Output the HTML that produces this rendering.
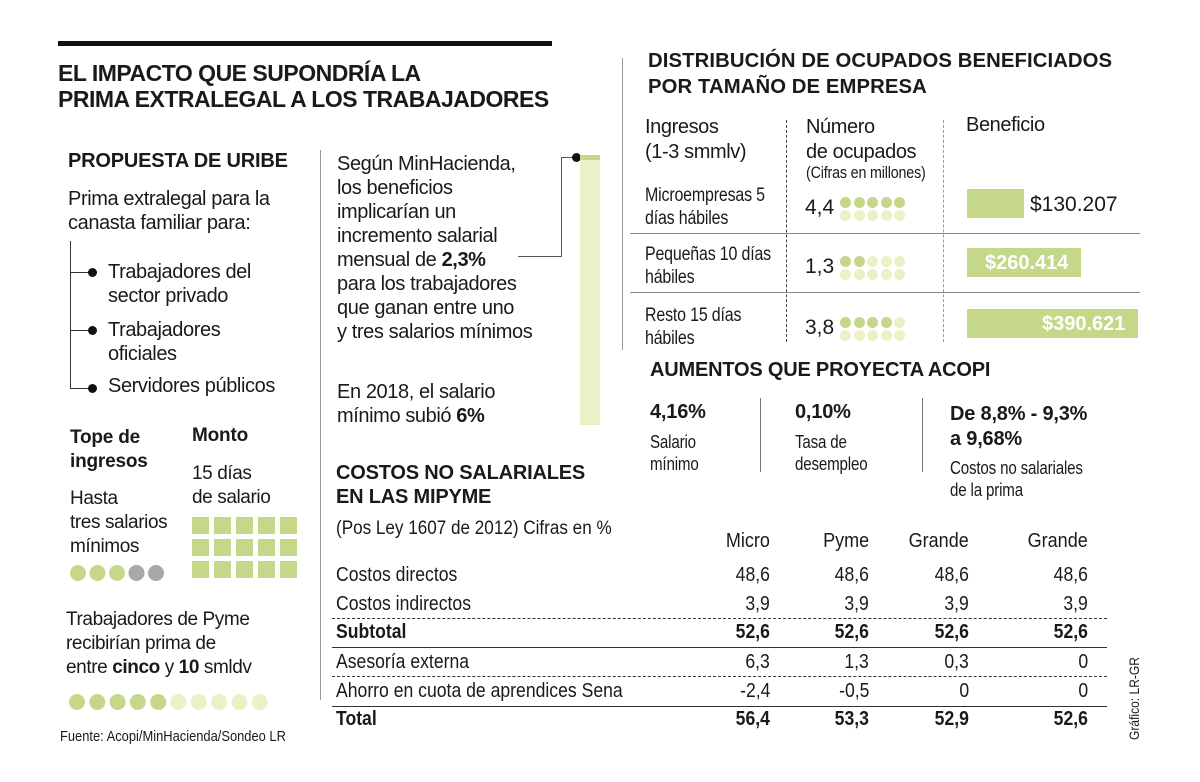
<!DOCTYPE html>
<html><head><meta charset="utf-8">
<style>
html,body{margin:0;padding:0;background:#fff;}
#root{position:relative;width:1200px;height:782px;overflow:hidden;font-family:"Liberation Sans",sans-serif;color:#1a1a1a;}
.t{position:absolute;white-space:nowrap;line-height:1;}
.h{font-weight:bold;font-size:20px;letter-spacing:-0.2px;}
.b{font-size:20px;letter-spacing:-0.4px;}
.c{font-size:18px;transform:scaleX(.84);transform-origin:left top;letter-spacing:-0.2px;}
.ln{position:absolute;background:#8a8a8a;}
</style></head>
<body>
<div id="root">
<div class="ln" style="left:58px;top:41px;width:494px;height:5px;background:#111"></div>
<div class="t" style="left:58px;top:60px;font-size:23px;font-weight:bold;line-height:26px;letter-spacing:-0.5px">EL IMPACTO QUE SUPONDRÍA LA<br>PRIMA EXTRALEGAL A LOS TRABAJADORES</div>

<!-- Left column -->
<div class="t h" style="left:68px;top:151px">PROPUESTA DE URIBE</div>
<div class="t b" style="left:68px;top:187px;line-height:24px">Prima extralegal para la<br>canasta familiar para:</div>
<div class="ln" style="left:70px;top:241px;width:1px;height:147px;background:#333"></div>
<div class="ln" style="left:70px;top:272px;width:20px;height:1px;background:#333"></div>
<div class="ln" style="left:70px;top:330px;width:20px;height:1px;background:#333"></div>
<div class="ln" style="left:70px;top:388px;width:20px;height:1px;background:#333"></div>
<div class="ln" style="left:88px;top:268px;width:9px;height:9px;border-radius:50%;background:#111"></div>
<div class="ln" style="left:88px;top:326px;width:9px;height:9px;border-radius:50%;background:#111"></div>
<div class="ln" style="left:88px;top:384px;width:9px;height:9px;border-radius:50%;background:#111"></div>
<div class="t b" style="left:108px;top:260px;line-height:24px">Trabajadores del<br>sector privado</div>
<div class="t b" style="left:108px;top:318px;line-height:24px">Trabajadores<br>oficiales</div>
<div class="t b" style="left:108px;top:376px">Servidores públicos</div>

<div class="t h" style="left:70px;top:426px;line-height:24px;font-size:19px">Tope de<br>ingresos</div>
<div class="t h" style="left:192px;top:426px;font-size:19px">Monto</div>
<div class="t b" style="left:70px;top:487px;line-height:24px;font-size:19px">Hasta<br>tres salarios<br>mínimos</div>
<div class="t b" style="left:192px;top:462px;line-height:24px;font-size:19px">15 días<br>de salario</div>
<svg id="leftsvg" style="position:absolute;left:0;top:0" width="320" height="782"></svg>
<div class="t b" style="left:66px;top:608px;line-height:24px;font-size:19px">Trabajadores de Pyme<br>recibirían prima de<br>entre <b>cinco</b> y <b>10</b> smldv</div>
<div class="t" style="left:60px;top:729px;font-size:15px;transform:scaleX(.86);transform-origin:left">Fuente: Acopi/MinHacienda/Sondeo LR</div>

<div class="ln" style="left:320px;top:150px;width:1px;height:550px;background:#999"></div>

<!-- Middle column -->
<div class="t b" style="left:337px;top:152px;line-height:24px">Según MinHacienda,<br>los beneficios<br>implicarían un<br>incremento salarial<br>mensual de <b>2,3%</b><br>para los trabajadores<br>que ganan entre uno<br>y tres salarios mínimos</div>
<div class="t b" style="left:337px;top:380px;line-height:24px">En 2018, el salario<br>mínimo subió <b>6%</b></div>
<div class="ln" style="left:518px;top:256px;width:43px;height:1px;background:#555"></div>
<div class="ln" style="left:561px;top:157px;width:1px;height:100px;background:#555"></div>
<div class="ln" style="left:561px;top:157px;width:16px;height:1px;background:#555"></div>
<div class="ln" style="left:572px;top:153px;width:9px;height:9px;border-radius:50%;background:#111"></div>
<div class="ln" style="left:580px;top:155px;width:20px;height:270px;background:#ebf0c6"></div>
<div class="ln" style="left:580px;top:155px;width:20px;height:5px;background:#c5d88a"></div>

<div class="t h" style="left:336px;top:461px;line-height:24px">COSTOS NO SALARIALES<br>EN LAS MIPYME</div>
<div class="t" style="left:336px;top:519px;font-size:19px;transform:scaleX(.9);transform-origin:left">(Pos Ley 1607 de 2012) Cifras en %</div>
<div id="table"></div>

<!-- Right column -->
<div class="ln" style="left:622px;top:58px;width:1px;height:292px;background:#999"></div>
<div class="t h" style="left:648px;top:48px;line-height:26px;font-size:20.3px;letter-spacing:0.1px">DISTRIBUCIÓN DE OCUPADOS BENEFICIADOS<br>POR TAMAÑO DE EMPRESA</div>
<div class="t b" style="left:645px;top:115px;line-height:25px">Ingresos<br>(1-3 smmlv)</div>
<div class="t b" style="left:806px;top:115px;line-height:25px">Número<br>de ocupados</div>
<div class="t c" style="left:806px;top:164px;font-size:17px">(Cifras en millones)</div>
<div class="t b" style="left:966px;top:115px">Beneficio</div>
<div class="ln" style="left:786px;top:120px;width:0;height:222px;border-left:1px dashed #444;background:none"></div>
<div class="ln" style="left:943px;top:120px;width:0;height:222px;border-left:1px dashed #999;background:none"></div>
<div id="dist"></div>

<div class="t h" style="left:650px;top:360px">AUMENTOS QUE PROYECTA ACOPI</div>
<div class="t h" style="left:650px;top:402px">4,16%</div>
<div class="t c" style="left:650px;top:431px;line-height:22px">Salario<br>mínimo</div>
<div class="ln" style="left:760px;top:398px;width:1px;height:74px;background:#777"></div>
<div class="t h" style="left:795px;top:402px">0,10%</div>
<div class="t c" style="left:795px;top:431px;line-height:22px">Tasa de<br>desempleo</div>
<div class="ln" style="left:922px;top:398px;width:1px;height:74px;background:#777"></div>
<div class="t h" style="left:950px;top:402px;line-height:25px">De 8,8% - 9,3%<br>a 9,68%</div>
<div class="t c" style="left:950px;top:457px;line-height:22px">Costos no salariales<br>de la prima</div>

<div class="t" style="left:1127px;top:740px;font-size:14px;transform:rotate(-90deg) scaleX(.86);transform-origin:left top">Gráfico: LR-GR</div>
</div>

<script>
// ---- data ----
const topeDots = [1,1,1,0,0];
const pymeDots = [1,1,1,1,1,0,0,0,0,0];
const empresas = ["Microempresas 5|días hábiles","Pequeñas 10 días|hábiles","Resto 15 días|hábiles"];
const ocupados = [4.4, 1.3, 3.8];
const beneficio = [130207, 260414, 390621];
const beneficioLabels = ["$130.207","$260.414","$390.621"];
const tableCols = ["Micro","Pyme","Grande","Grande"];
const tableRows = ["Costos directos","Costos indirectos","Subtotal","Asesoría externa","Ahorro en cuota de aprendices Sena","Total"];
const tableVals = [
  ["48,6","48,6","48,6","48,6"],
  ["3,9","3,9","3,9","3,9"],
  ["52,6","52,6","52,6","52,6"],
  ["6,3","1,3","0,3","0"],
  ["-2,4","-0,5","0","0"],
  ["56,4","53,3","52,9","52,6"]
];
const GREEN="#c5d88a", LIGHT="#ebf0c6", GRAY="#a7a7ac";
const NS="http://www.w3.org/2000/svg";

// left icons
const ls=document.getElementById('leftsvg');
for(let r=0;r<3;r++)for(let c=0;c<5;c++){
  const s=document.createElementNS(NS,'rect');
  s.setAttribute('x',192+c*22);s.setAttribute('y',517+r*22);s.setAttribute('width',17);s.setAttribute('height',17);s.setAttribute('fill',GREEN);
  
  
  ls.appendChild(s);
}
topeDots.forEach((v,i)=>{
  const c=document.createElementNS(NS,'circle');
  c.setAttribute('cx',78+i*19.5);c.setAttribute('cy',573);c.setAttribute('r',8);c.setAttribute('fill',v?GREEN:GRAY);
  
  
  ls.appendChild(c);
});
pymeDots.forEach((v,i)=>{
  const c=document.createElementNS(NS,'circle');
  c.setAttribute('cx',77+i*20.3);c.setAttribute('cy',702);c.setAttribute('r',8);c.setAttribute('fill',v?GREEN:LIGHT);
  
  
  ls.appendChild(c);
});

// distribution chart
const dist=document.getElementById('dist');
const rowY=[184,243,304];
const barX=967, barScale=171/390621;
function bx(v){return v*barScale;}
empresas.forEach((e,i)=>{
  const y=rowY[i];
  const lab=document.createElement('div');
  lab.className='t c';lab.style.left='645px';lab.style.top=y+'px';lab.style.lineHeight='23px';lab.style.fontSize='19px';
  lab.innerHTML=e.replace('|','<br>');
  
  
  dist.appendChild(lab);
  const val=document.createElement('div');
  val.className='t';val.style.left='805px';val.style.top=(y+13)+'px';val.style.fontSize='21px';
  val.textContent=String(ocupados[i]).replace('.',',');
  
  
  dist.appendChild(val);
  const dark=Math.ceil(ocupados[i]);
  for(let k=0;k<10;k++){
    const d=document.createElement('div');
    d.className='ln';
    d.style.left=(840+(k%5)*13.5)+'px';d.style.top=(y+13+Math.floor(k/5)*13)+'px';
    d.style.width='11px';d.style.height='11px';d.style.borderRadius='50%';
    d.style.background=(k<dark)?GREEN:LIGHT;
    
    
    dist.appendChild(d);
  }
  const w=bx(beneficio[i]);
  const bar=document.createElement('div');
  bar.className='ln';bar.style.left=barX+'px';bar.style.top=(y+5)+'px';bar.style.width=w+'px';bar.style.height='29px';bar.style.background=GREEN;
  
  
  dist.appendChild(bar);
  const bl=document.createElement('div');
  bl.className='t';bl.style.fontSize='21px';bl.style.top=(y+10)+'px';
  bl.textContent=beneficioLabels[i];
  if(w<100){bl.style.left=(barX+w+6)+'px';}
  else{bl.style.left=(barX+w-96)+'px';bl.style.color='#fff';bl.style.fontWeight='bold';bl.style.fontSize='20px';}
  
  
  dist.appendChild(bl);
  if(i<2){
    const hl=document.createElement('div');
    hl.className='ln';hl.style.left='630px';hl.style.top=(i==0?233:292)+'px';hl.style.width='510px';hl.style.height='1px';hl.style.background='#888';
    
    
    dist.appendChild(hl);
  }
});

// table
const tb=document.getElementById('table');
const colR=[770,869,969,1088];
const tRowY=[565,594,622,652,681,709];
tableCols.forEach((c,j)=>{
  const d=document.createElement('div');
  d.className='t';d.style.fontSize='20px';d.style.top='531px';d.style.right=(1200-colR[j])+'px';
  d.style.transform='scaleX(.9)';d.style.transformOrigin='right';
  d.textContent=c;
  
  
  tb.appendChild(d);
});
tableRows.forEach((r,i)=>{
  const bold=(i==2||i==5);
  const l=document.createElement('div');
  l.className='t';l.style.left='336px';l.style.top=tRowY[i]+'px';l.style.fontSize='20px';
  l.style.transform='scaleX(.88)';l.style.transformOrigin='left';
  if(bold)l.style.fontWeight='bold';
  l.textContent=r;
  
  
  tb.appendChild(l);
  tableVals[i].forEach((v,j)=>{
    const d=document.createElement('div');
    d.className='t';d.style.fontSize='20px';d.style.top=tRowY[i]+'px';d.style.right=(1200-colR[j])+'px';
    d.style.transform='scaleX(.88)';d.style.transformOrigin='right';
    if(bold)d.style.fontWeight='bold';
    d.textContent=v;
    
    
    tb.appendChild(d);
  });
});
[[618,true],[647,false],[676,true],[706,false]].forEach(([y,dash])=>{
  const d=document.createElement('div');
  d.className='ln';d.style.left='332px';d.style.top=y+'px';d.style.width='775px';d.style.height='0';d.style.background='none';
  d.style.borderTop=dash?'1.5px dashed #333':'1.5px solid #333';
  
  
  tb.appendChild(d);
});
</script>
</body></html>
